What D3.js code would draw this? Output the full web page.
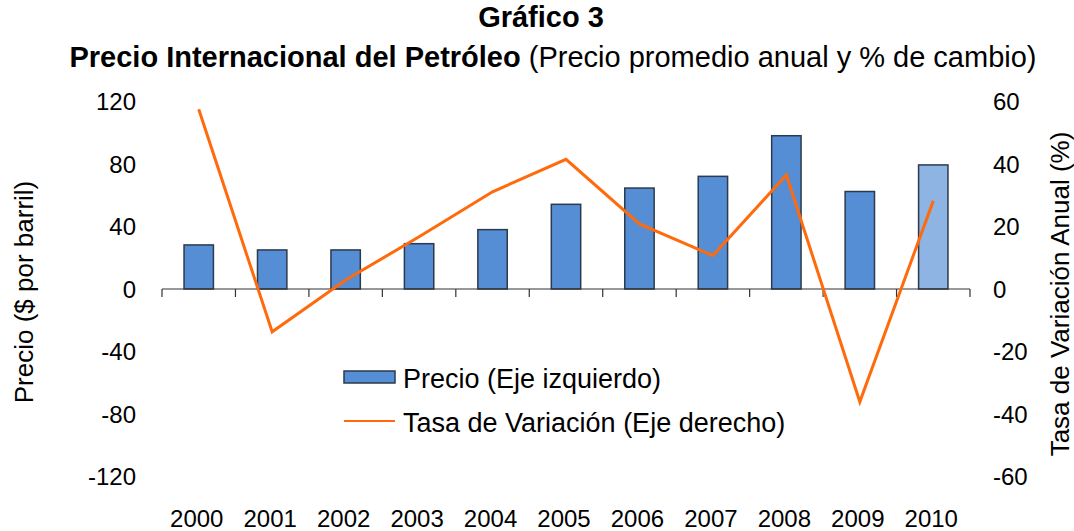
<!DOCTYPE html>
<html>
<head>
<meta charset="utf-8">
<script src="https://cdn.jsdelivr.net/npm/d3@7"></script>
<style>
  body { margin: 0; background: #fff; }
  text { font-family: "Liberation Sans", Arial, sans-serif; fill: #000; }
</style>
</head>
<body>
<svg id="chart"></svg>
<script>
const width = 1074;
const height = 531;

// data
const years = ["2000", "2001", "2002", "2003", "2004", "2005", "2006", "2007", "2008", "2009", "2010"];
const precio = [28.2, 25, 25, 29, 38, 54.2, 64.6, 72.1, 98.1, 62.4, 79.4];
const tasa = [57.5, -13.7, 2.9, 16.7, 31.1, 41.5, 20.8, 10.7, 36.5, -36.1, 28.2];
const leftTicks = [120, 80, 40, 0, -40, -80, -120];
const rightTicks = [60, 40, 20, 0, -20, -40, -60];

var svg = d3.select("#chart")
    .attr("width", width)
    .attr("height", height);

var x = d3.scaleBand()
    .domain(years)
    .range([162, 970])
    .paddingInner(0.6)
    .paddingOuter(0.3);

var yL = d3.scaleLinear().domain([-120, 120]).range([476.5, 101.5]);
var yR = d3.scaleLinear().domain([-60, 60]).range([476.5, 101.5]);

// titles
svg.append("text")
    .attr("x", 541).attr("y", 27)
    .attr("text-anchor", "middle")
    .style("font-size", "29px").style("font-weight", "bold")
    .text("Gráfico 3");

var sub = svg.append("text")
    .attr("x", 553).attr("y", 67)
    .attr("text-anchor", "middle")
    .style("font-size", "29px");
sub.append("tspan").style("font-weight", "bold").text("Precio Internacional del Petróleo");
sub.append("tspan").text(" (Precio promedio anual y % de cambio)");

// bars
svg.append("g")
    .selectAll("rect")
    .data(precio)
    .enter().append("rect")
    .attr("x", (d, i) => x(years[i]))
    .attr("width", x.bandwidth())
    .attr("y", d => yL(d))
    .attr("height", d => yL(0) - yL(d))
    .attr("fill", (d, i) => i === years.length - 1 ? "#8EB4E3" : "#558ED5")
    .attr("stroke", "#2b3a4c")
    .attr("stroke-width", 1.5);

// x axis on zero line, ticks between categories
var xAxis = svg.append("g").attr("transform", `translate(0,${yL(0)})`);
xAxis.append("line")
    .attr("x1", 162).attr("x2", 970)
    .attr("stroke", "#333").attr("stroke-width", 1.2);
var step = x.step();
xAxis.selectAll(".tick")
    .data(d3.range(years.length + 1))
    .enter().append("line")
    .attr("x1", i => 162 + i * step)
    .attr("x2", i => 162 + i * step)
    .attr("y1", 0).attr("y2", 8)
    .attr("stroke", "#333").attr("stroke-width", 1.2);

svg.append("g")
    .selectAll("text")
    .data(years)
    .enter().append("text")
    .attr("x", d => x(d) + x.bandwidth() / 2 - 2)
    .attr("y", 527)
    .attr("text-anchor", "middle")
    .style("font-size", "24px")
    .text(d => d);

// left axis labels
svg.append("g")
    .selectAll("text")
    .data(leftTicks)
    .enter().append("text")
    .attr("x", 136)
    .attr("y", d => yL(d) + 8.5)
    .attr("text-anchor", "end")
    .style("font-size", "24px")
    .text(d => d);

// right axis labels
svg.append("g")
    .selectAll("text")
    .data(rightTicks)
    .enter().append("text")
    .attr("x", 993)
    .attr("y", d => yR(d) + 8.5)
    .attr("text-anchor", "start")
    .style("font-size", "24px")
    .text(d => d);

// axis titles
svg.append("text")
    .attr("transform", "translate(33,292) rotate(-90)")
    .attr("text-anchor", "middle")
    .style("font-size", "26px")
    .text("Precio ($ por barril)");

svg.append("text")
    .attr("transform", "translate(1069,294) rotate(-90)")
    .attr("text-anchor", "middle")
    .style("font-size", "26px")
    .text("Tasa de Variación Anual (%)");

// line
var line = d3.line()
    .x((d, i) => x(years[i]) + x.bandwidth() / 2)
    .y(d => yR(d));

svg.append("path")
    .datum(tasa)
    .attr("d", line)
    .attr("fill", "none")
    .attr("stroke", "#FF6A0D")
    .attr("stroke-width", 3);

// legend
var legend = svg.append("g");
legend.append("rect")
    .attr("x", 344).attr("y", 371)
    .attr("width", 51).attr("height", 12)
    .attr("fill", "#558ED5")
    .attr("stroke", "#2b3a4c").attr("stroke-width", 1.5);
legend.append("text")
    .attr("x", 403).attr("y", 387.5)
    .style("font-size", "27px")
    .text("Precio (Eje izquierdo)");
legend.append("line")
    .attr("x1", 344).attr("x2", 395)
    .attr("y1", 421).attr("y2", 421)
    .attr("stroke", "#FF6A0D").attr("stroke-width", 2);
legend.append("text")
    .attr("x", 403).attr("y", 432)
    .style("font-size", "27px")
    .text("Tasa de Variación (Eje derecho)");
</script>
</body>
</html>
